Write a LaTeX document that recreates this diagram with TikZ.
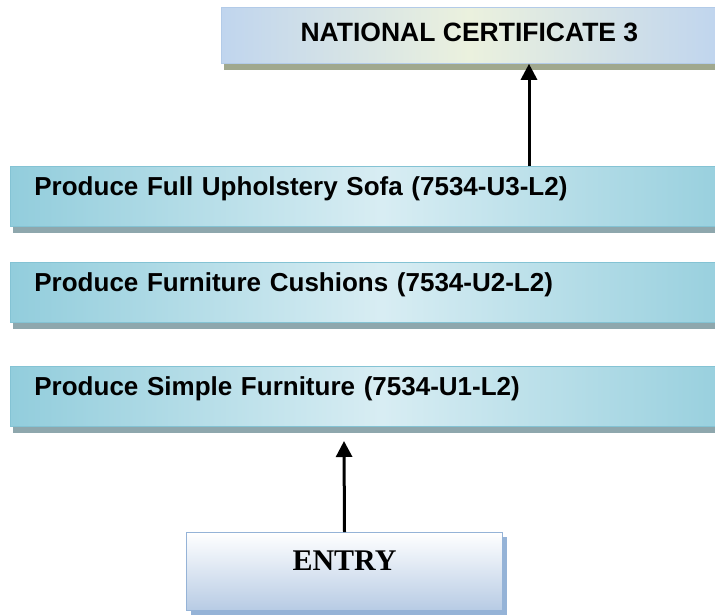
\documentclass[tikz,border=0pt]{standalone}
\usepackage{fontspec}
\setmainfont{Liberation Sans}
\newfontfamily\entryfont{Liberation Serif}
\usepackage{tikz}
\usetikzlibrary{arrows.meta, shadows}

\definecolor{unitside}{HTML}{92CDDC}
\definecolor{unitmid}{HTML}{D8EDF3}
\definecolor{unitline}{HTML}{84C3D4}
\definecolor{unitshadow}{HTML}{8EA7AD}
\definecolor{certside}{HTML}{C0D5EE}
\definecolor{certmid}{HTML}{EBF1DE}
\definecolor{certline}{HTML}{B3CBE8}
\definecolor{certshadow}{HTML}{A0A88E}
\definecolor{entrybottom}{HTML}{B7CBE4}
\definecolor{entryline}{HTML}{95B3D7}

\begin{document}
\begin{tikzpicture}[x=1pt, y=-1pt,
	unitbox/.style={draw=unitline, line width=0.8pt, left color=unitside, right color=unitside, middle color=unitmid,
		anchor=north west, minimum height=60pt, text width=696pt, inner xsep=24pt, inner ysep=0pt, align=left,
		text height=19pt, text depth=20pt, font=\bfseries\fontsize{26}{30}\selectfont,
		drop shadow={shadow xshift=3pt, shadow yshift=-7pt, fill=unitshadow, opacity=1}},
	flow/.style={line width=3pt, -{Triangle[length=16pt, width=16pt]}}]
	
	\useasboundingbox (0,0) rectangle (715,614);
	\clip (0,0) rectangle (715,614);
	
	% Qualification at the top
	\node[draw=certline, line width=0.8pt, left color=certside, right color=certside, middle color=certmid,
		anchor=north west, minimum width=496pt, minimum height=56pt, inner sep=0pt,
		text height=19pt, text depth=6pt, font=\bfseries\fontsize{26.5}{30}\selectfont,
		drop shadow={shadow xshift=3pt, shadow yshift=-7pt, fill=certshadow, opacity=1}]
		(cert) at (221,7) {NATIONAL CERTIFICATE 3};
	
	% Unit standards
	\node[unitbox] (sofa) at (10,166) {Produce Full Upholstery Sofa (7534-U3-L2)};
	\node[unitbox] (cushion) at (10,262) {Produce Furniture Cushions (7534-U2-L2)};
	\node[unitbox] (simple) at (10,366) {Produce Simple Furniture (7534-U1-L2)};
	
	% Entry box
	\node[draw=entryline, line width=1pt, top color=white, bottom color=entrybottom,
		anchor=north west, minimum width=316pt, minimum height=78pt, inner sep=0pt,
		text height=19pt, text depth=22pt, font=\entryfont\bfseries\fontsize{30}{34}\selectfont,
		drop shadow={shadow xshift=4pt, shadow yshift=-4pt, fill=entryline, opacity=1}]
		(entry) at (186,532) {ENTRY};
	
	% Arrows
	\coordinate (upA) at (529,166);
	\draw[flow] (upA) -- (upA |- cert.south);
	\coordinate (tipB) at (344,441);
	\draw[flow] (entry.north) -- (tipB);
	
\end{tikzpicture}
\end{document}
